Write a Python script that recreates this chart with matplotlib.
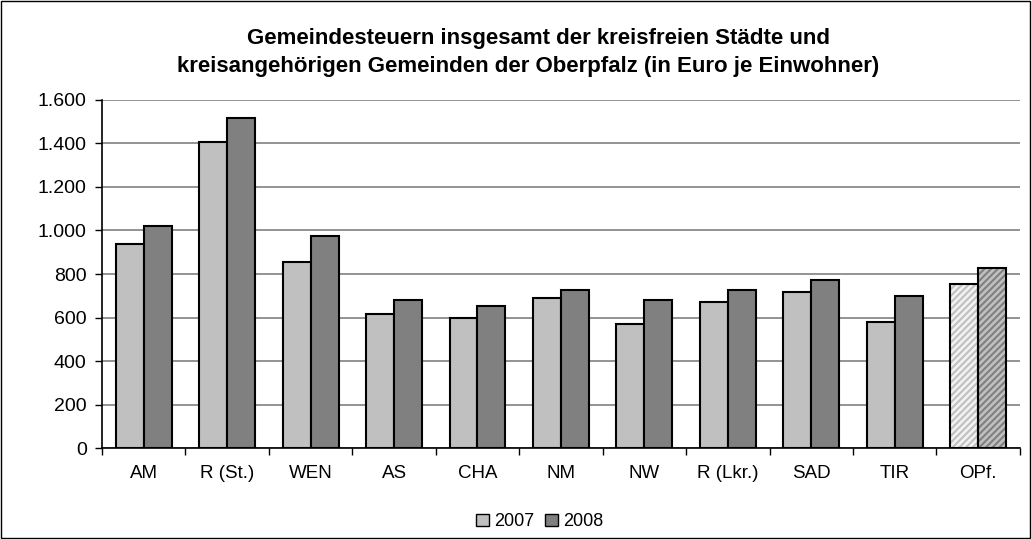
import numpy as np
import matplotlib
matplotlib.use("Agg")
import matplotlib.pyplot as plt
from matplotlib.patches import Rectangle
from matplotlib.ticker import FuncFormatter

plt.rcParams['font.family'] = ['Liberation Sans', 'DejaVu Sans']

regions = ['AM', 'R (St.)', 'WEN', 'AS', 'CHA', 'NM', 'NW', 'R (Lkr.)', 'SAD', 'TIR', 'OPf.']
tax_2007 = [938, 1407, 855, 616, 598, 690, 570, 671, 717, 579, 754]
tax_2008 = [1021, 1517, 976, 680, 653, 726, 680, 726, 772, 699, 828]
years = ['2007', '2008']

c07 = '#C0C0C0'
c08 = '#808080'

fig = plt.figure(figsize=(10.32, 5.39), dpi=100)
ax = fig.add_axes([0.0988, 0.1688, 0.8895, 0.6457])

x = np.arange(len(regions))
w = 0.335
plt.rcParams['hatch.linewidth'] = 1.5

for i in range(len(regions)):
    if regions[i] == 'OPf.':
        # striped summary bars: draw fill+hatch, then black outline on top
        ax.bar(x[i] - w / 2, tax_2007[i], w, facecolor='#F2F2F2', edgecolor=c07,
               hatch='/////', linewidth=0, zorder=3)
        ax.bar(x[i] + w / 2, tax_2008[i], w, facecolor=c07, edgecolor=c08,
               hatch='/////', linewidth=0, zorder=3)
        ax.bar(x[i] - w / 2, tax_2007[i], w, fill=False, edgecolor='black', linewidth=1.5, zorder=4)
        ax.bar(x[i] + w / 2, tax_2008[i], w, fill=False, edgecolor='black', linewidth=1.5, zorder=4)
    else:
        ax.bar(x[i] - w / 2, tax_2007[i], w, color=c07, edgecolor='black', linewidth=1.5, zorder=3)
        ax.bar(x[i] + w / 2, tax_2008[i], w, color=c08, edgecolor='black', linewidth=1.5, zorder=3)

ax.set_xlim(-0.5, len(regions) - 0.5)
ax.set_ylim(0, 1600)
ax.set_yticks(np.arange(0, 1601, 200))
ax.yaxis.set_major_formatter(FuncFormatter(lambda v, p: f'{int(v):,}'.replace(',', '.')))
ax.grid(axis='y', color='#808080', linewidth=1.2, zorder=0)

ax.set_xticks(x)
ax.set_xticklabels(regions, fontsize=13.5)
ax.set_xticks(np.arange(-0.5, len(regions), 1), minor=True)
ax.tick_params(axis='x', which='major', length=0, pad=12)
ax.tick_params(axis='x', which='minor', length=5, width=1, color='black', direction='out')
ax.tick_params(axis='y', length=5, width=1, labelsize=14, pad=6)

for s in ['top', 'right']:
    ax.spines[s].set_visible(False)
ax.spines['left'].set_linewidth(1.2)
ax.spines['bottom'].set_linewidth(1.2)

fig.text(0.522, 0.929, 'Gemeindesteuern insgesamt der kreisfreien Städte und',
         ha='center', va='center', fontsize=16, fontweight='bold')
fig.text(0.512, 0.877, 'kreisangehörigen Gemeinden der Oberpfalz (in Euro je Einwohner)',
         ha='center', va='center', fontsize=16, fontweight='bold')

handles = [Rectangle((0, 0), 1, 1, facecolor=c07, edgecolor='black', linewidth=1),
           Rectangle((0, 0), 1, 1, facecolor=c08, edgecolor='black', linewidth=1)]
fig.legend(handles, years, loc='center', bbox_to_anchor=(0.523, 0.032), ncol=2,
           frameon=False, fontsize=13, handlelength=0.7, handleheight=0.7,
           handletextpad=0.3, columnspacing=0.6)

fig.patches.append(Rectangle((0.0005, 0.001), 0.998, 0.997, transform=fig.transFigure,
                             fill=False, edgecolor='black', linewidth=1))

fig.savefig('out.png', dpi=100)
